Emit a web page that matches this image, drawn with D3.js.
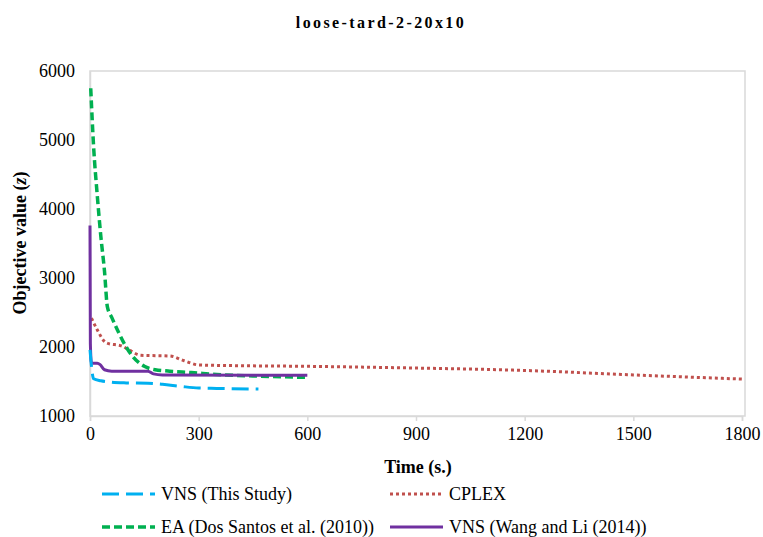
<!DOCTYPE html>
<html><head><meta charset="utf-8">
<script src="https://cdn.jsdelivr.net/npm/d3@7"></script>
<style>body{margin:0;background:#fff}svg{display:block}
svg text{font-family:"Liberation Serif","Times New Roman",Tinos,"DejaVu Serif",serif !important;}</style>
</head><body>
<svg id="c" width="763" height="537"></svg>
<script>
const title = "loose-tard-2-20x10";
const xTicks = [0, 300, 600, 900, 1200, 1500, 1800];
const yTicks = [1000, 2000, 3000, 4000, 5000, 6000];
const seriesNames = ["VNS (This Study)", "CPLEX", "EA (Dos Santos et al. (2010))", "VNS (Wang and Li (2014))"];

const vnsTime  = [0, 10, 30, 60, 100, 160, 200, 250, 300, 350, 465];
const vnsValue = [1960, 1540, 1510, 1490, 1480, 1475, 1460, 1430, 1405, 1400, 1390];

const cplexTime  = [4, 20, 45, 90, 110, 140, 220, 260, 300, 400, 600, 900, 1200, 1500, 1800];
const cplexValue = [2420, 2250, 2060, 2010, 1950, 1880, 1870, 1800, 1740, 1730, 1720, 1695, 1660, 1595, 1535];

const eaTime  = [2, 10, 20, 30, 40, 48, 60, 80, 100, 120, 150, 180, 220, 280, 350, 450, 600];
const eaValue = [5750, 4900, 4200, 3600, 3100, 2580, 2430, 2200, 2000, 1850, 1720, 1670, 1650, 1630, 1600, 1580, 1560];

const wangTime  = [0, 1, 4, 20, 28, 40, 60, 160, 175, 200, 600];
const wangValue = [3760, 2050, 1765, 1765, 1745, 1670, 1650, 1650, 1610, 1595, 1590];

const svg = d3.select("#c");
const L = 90, R = 742, T = 71, B = 416;
const x = d3.scaleLinear().domain([0, 1800]).range([L, R]);
const y = d3.scaleLinear().domain([1000, 6000]).range([B, T]);

// frame
svg.append("rect").attr("x", L).attr("y", T).attr("width", 745 - L).attr("height", B - T)
  .attr("fill", "none").attr("stroke", "#d9d9d9").attr("stroke-width", 1.5);

// x axis
const xa = svg.append("g").attr("transform", `translate(0,${B})`)
  .call(d3.axisBottom(x).tickValues(xTicks).tickSize(5).tickPadding(6).tickFormat(d3.format("d")));
xa.select(".domain").attr("stroke", "#d9d9d9").attr("stroke-width", 1.5);
xa.selectAll(".tick line").attr("stroke", "#d9d9d9").attr("stroke-width", 1.5);
xa.selectAll("text").attr("font-size", 18).attr("fill", "#000");

// y axis
const ya = svg.append("g").attr("transform", `translate(${L},0)`)
  .call(d3.axisLeft(y).tickValues(yTicks).tickSize(0).tickPadding(15).tickFormat(d3.format("d")));
ya.select(".domain").attr("stroke", "#d9d9d9").attr("stroke-width", 1.5);
ya.selectAll("text").attr("font-size", 18).attr("fill", "#000");

const line = d3.line().x(d => x(d[0])).y(d => y(d[1])).curve(d3.curveMonotoneX);
const zip = (a, b) => a.map((t, i) => [t, b[i]]);

const styles = [
  {data: zip(vnsTime, vnsValue), color: "#00b0f0", dash: "17,7", w: 3},
  {data: zip(cplexTime, cplexValue), color: "#c0504d", dash: "3,3", w: 3},
  {data: zip(eaTime, eaValue), color: "#00b050", dash: "8,4", w: 3.5},
  {data: zip(wangTime, wangValue), color: "#7030a0", dash: null, w: 3}
];
const order = [1, 2, 3, 0];
order.forEach(i => {
  const s = styles[i];
  svg.append("path").attr("d", line(s.data)).attr("fill", "none")
    .attr("stroke", s.color).attr("stroke-width", s.w)
    .attr("stroke-dasharray", s.dash);
});

// title
svg.append("text").attr("x", 381).attr("y", 28).attr("text-anchor", "middle")
  .attr("font-weight", "bold").attr("font-size", 16)
  .attr("letter-spacing", 2.4).text(title);

// axis titles
svg.append("text").attr("x", 418).attr("y", 473).attr("text-anchor", "middle")
  .attr("font-weight", "bold").attr("font-size", 18).text("Time (s.)");
const yt = svg.append("text").attr("transform", "translate(26,243) rotate(-90)").attr("text-anchor", "middle")
  .attr("font-weight", "bold").attr("font-size", 18);
yt.append("tspan").text("Objective value (");
yt.append("tspan").attr("font-style", "italic").text("z");
yt.append("tspan").text(")");

// legend
const legPos = [[102, 494], [390, 494], [102, 527], [390, 527]];
styles.forEach((s, i) => {
  const [lx, ly] = legPos[i];
  svg.append("line").attr("x1", lx).attr("x2", lx + 53).attr("y1", ly).attr("y2", ly)
    .attr("stroke", s.color).attr("stroke-width", s.w).attr("stroke-dasharray", s.dash);
  svg.append("text").attr("x", lx + 59).attr("y", ly + 6)
    .attr("font-size", 18).attr("fill", "#000").text(seriesNames[i]);
});
</script>
</body></html>
